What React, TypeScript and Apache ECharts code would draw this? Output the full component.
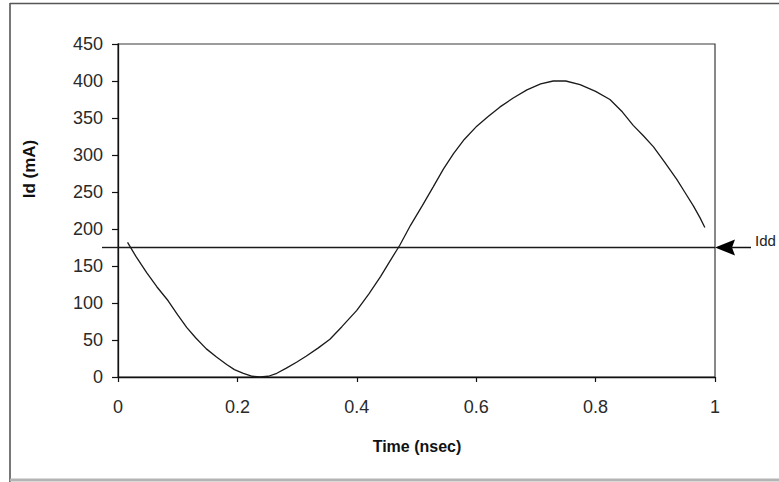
import React, { useEffect, useRef } from "react";
import * as echarts from "echarts";

// Drain current over one clock period
const timeNs: number[] = [
  0.016, 0.03, 0.048, 0.065, 0.084, 0.1, 0.115, 0.13, 0.148, 0.165, 0.182, 0.195,
  0.21, 0.225, 0.238, 0.252, 0.266, 0.282, 0.299, 0.315, 0.335, 0.355, 0.375, 0.4,
  0.42, 0.44, 0.455, 0.472, 0.49, 0.51, 0.528, 0.545, 0.562, 0.58, 0.601, 0.62,
  0.64, 0.662, 0.685, 0.708, 0.729, 0.75, 0.774, 0.8, 0.824, 0.845, 0.863, 0.88,
  0.897, 0.915, 0.936, 0.95, 0.964, 0.975, 0.983,
];
const idMa: number[] = [
  182, 163, 141, 122, 103, 84, 67, 53, 38, 27, 17, 10,
  5, 1, 0, 1, 5, 12, 20, 28, 39, 51, 68, 90,
  112, 136, 156, 178, 205, 232, 257, 281, 302, 321, 339, 352,
  365, 377, 388, 396, 400, 400, 395, 386, 375, 358, 340, 326,
  311, 291, 267, 249, 231, 215, 202,
];

// Average supply current
const IDD = 175;
const iddLabel = "Idd";
const xTitle = "Time (nsec)";
const yTitle = "Id (mA)";

const FONT = "'Liberation Sans', Arial, sans-serif";

export default function App() {
  const ref = useRef<HTMLDivElement>(null);

  useEffect(() => {
    if (!ref.current) return;
    const chart = echarts.init(ref.current, undefined, { renderer: "svg" });

    const frame = [
      { id: "frameLeft", type: "line", shape: { x1: 10, y1: 3, x2: 10, y2: 482 }, style: { stroke: "#555", lineWidth: 1.6 } },
      { id: "frameTop", type: "line", shape: { x1: 10, y1: 3.5, x2: 779, y2: 3.5 }, style: { stroke: "#555", lineWidth: 1.6 } },
      { id: "frameBottom", type: "line", shape: { x1: 10, y1: 480, x2: 779, y2: 480 }, style: { stroke: "#b4b4b4", lineWidth: 3 } },
      {
        id: "yTitle",
        type: "text",
        x: 29,
        y: 169,
        rotation: Math.PI / 2,
        style: {
          text: yTitle,
          font: `bold 17px ${FONT}`,
          fill: "#111",
          textAlign: "center",
          textVerticalAlign: "middle",
        },
      },
      {
        id: "xTitle",
        type: "text",
        x: 417,
        y: 446,
        style: {
          text: xTitle,
          font: `bold 16px ${FONT}`,
          fill: "#111",
          textAlign: "center",
          textVerticalAlign: "middle",
        },
      },
    ];

    chart.setOption({
      animation: false,
      backgroundColor: "#ffffff",
      grid: {
        left: 118,
        right: 64,
        top: 44,
        bottom: 105,
        show: true,
        borderColor: "#3a3a3a",
        borderWidth: 1.2,
      },
      xAxis: {
        type: "value",
        min: 0,
        max: 1,
        interval: 0.2,
        axisLine: { show: true, lineStyle: { color: "#111", width: 1.3 } },
        axisTick: { show: true, inside: false, length: 5, lineStyle: { color: "#111", width: 1.2 } },
        axisLabel: { color: "#2a2a2a", fontSize: 18, fontFamily: FONT, margin: 21 },
        splitLine: { show: false },
      },
      yAxis: {
        type: "value",
        min: 0,
        max: 450,
        interval: 50,
        axisLine: { show: true, lineStyle: { color: "#111", width: 1.3 } },
        axisTick: { show: true, inside: false, length: 6, lineStyle: { color: "#111", width: 1.2 } },
        axisLabel: { color: "#2a2a2a", fontSize: 18, fontFamily: FONT, margin: 15 },
        splitLine: { show: false },
      },
      series: [
        {
          type: "line",
          data: timeNs.map((t, i) => [t, idMa[i]]),
          showSymbol: false,
          smooth: false,
          lineStyle: { color: "#1a1a1a", width: 1.3 },
          markLine: {
            silent: true,
            symbol: ["none", "none"],
            label: { show: false },
            lineStyle: { color: "#1a1a1a", width: 1.4, type: "solid" },
            data: [{ yAxis: IDD }],
          },
        },
      ],
      graphic: frame,
    });

    // Idd marker: small overhang left of the axis, arrow and label at the right edge
    const yPix = chart.convertToPixel({ yAxisIndex: 0 }, IDD) as number;
    const xRight = chart.convertToPixel({ xAxisIndex: 0 }, 1) as number;
    const xLeft = chart.convertToPixel({ xAxisIndex: 0 }, 0) as number;
    chart.setOption({
      graphic: [
        ...frame,
        { id: "iddStub", type: "line", shape: { x1: xLeft - 16, y1: yPix, x2: xLeft, y2: yPix }, style: { stroke: "#1a1a1a", lineWidth: 1.4 } },
        {
          id: "iddHead",
          type: "polygon",
          shape: {
            points: [
              [xRight, yPix],
              [xRight + 20, yPix - 8],
              [xRight + 17, yPix],
              [xRight + 20, yPix + 8],
            ],
          },
          style: { fill: "#000" },
        },
        { id: "iddShaft", type: "line", shape: { x1: xRight + 15, y1: yPix, x2: xRight + 36, y2: yPix }, style: { stroke: "#111", lineWidth: 1.5 } },
        {
          id: "iddText",
          type: "text",
          x: xRight + 40,
          y: yPix - 7,
          style: {
            text: iddLabel,
            font: `15px ${FONT}`,
            fill: "#222",
            textAlign: "left",
            textVerticalAlign: "middle",
          },
        },
      ],
    });

    return () => chart.dispose();
  }, []);

  return (
    <div
      ref={ref}
      style={{ position: "fixed", left: 0, top: 0, width: 779, height: 482, background: "#fff" }}
    />
  );
}
